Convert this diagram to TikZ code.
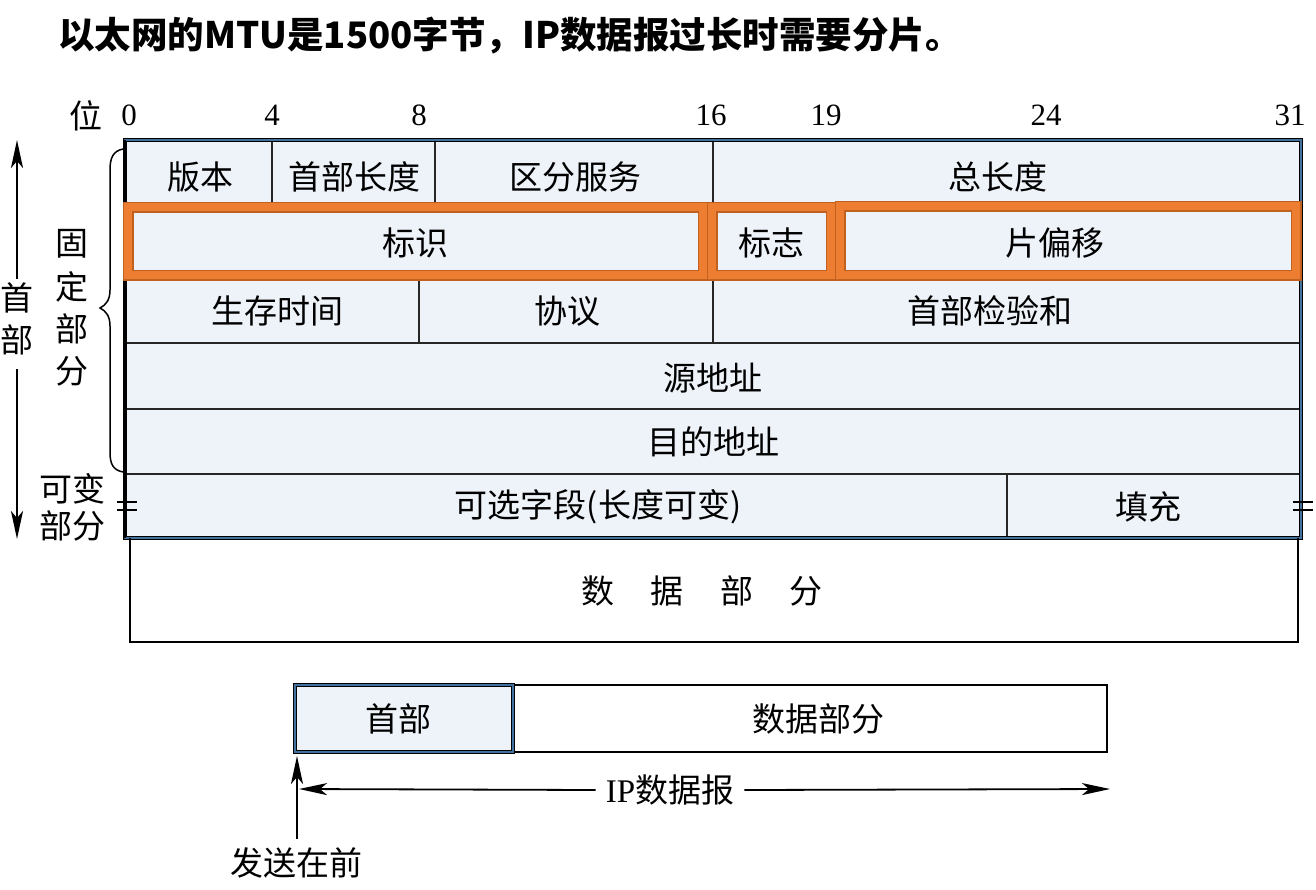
\documentclass[tikz,border=0pt]{standalone}
\usepackage{fontspec}
\setmainfont{Liberation Serif}
\newfontfamily\cjk{Noto Sans CJK SC}
\usetikzlibrary{arrows.meta}
\definecolor{cellfill}{HTML}{EEF3FA}
\definecolor{tableblue}{HTML}{41719C}
\definecolor{orangec}{HTML}{ED7D31}
\definecolor{orangedark}{HTML}{C0611F}
\begin{document}
\begin{tikzpicture}[x=1pt,y=-1pt,
  cjkl/.style={font=\cjk\fontsize{33}{38}\selectfont, inner sep=0pt},
  num/.style={font=\fontsize{31}{34}\selectfont, inner sep=0pt},
  arr/.style={-{Stealth[length=28pt,width=12pt,inset=7pt]}, line width=2.4pt},
  arrh/.style={-{Stealth[length=28pt,width=12pt,inset=7pt]}, line width=1.8pt},
  grid/.style={line width=1.5pt, black!85},
  obox/.style={line width=11pt, draw=orangedark},
  oboxin/.style={line width=8pt, draw=orangec}]
\useasboundingbox (0,0) rectangle (1316,889);

% title
\node[font=\cjk\bfseries\fontsize{36.5}{40}\selectfont, anchor=west, inner sep=0pt] (title) at (58,36) {以太网的MTU是1500字节，IP数据报过长时需要分片。};

% bit numbers
\node[cjkl] (wei) at (86,116) {位};
\node[num] (b0) at (129,115) {0};
\node[num] (b4) at (272,115) {4};
\node[num] (b8) at (419,115) {8};
\node[num] (b16) at (711,115) {16};
\node[num] (b19) at (826,115) {19};
\node[num] (b24) at (1046,115) {24};
\node[num] (b31) at (1290,115) {31};

% table
\fill[cellfill] (125,140) rectangle (1301,538);
\draw[grid] (125,203) -- (1301,203);
\draw[grid] (125,278) -- (1301,278);
\draw[grid] (125,343) -- (1301,343);
\draw[grid] (125,409) -- (1301,409);
\draw[grid] (125,474) -- (1301,474);
\draw[grid] (272,140) -- (272,203);
\draw[grid] (435,140) -- (435,203);
\draw[grid] (713,140) -- (713,203);
\draw[grid] (419,278) -- (419,343);
\draw[grid] (713,278) -- (713,343);
\draw[grid] (1007,474) -- (1007,538);
\draw[black, line width=3.5pt] (125,140) rectangle (1301,538);
\draw[tableblue, line width=1.5pt] (125,140) rectangle (1301,538);
\draw[black, line width=3pt] (124,140) -- (124,538);

% orange boxes
\draw[obox] (128,207) rectangle (703,275);
\draw[oboxin] (128,207) rectangle (703,275);
\draw[obox] (712,207) rectangle (831,275);
\draw[oboxin] (712,207) rectangle (831,275);
\draw[obox] (840,206) rectangle (1296,275);
\draw[oboxin] (840,206) rectangle (1296,275);

% cell texts
\node[cjkl] (ver) at (200,177) {版本};
\node[cjkl] (hlen) at (354,177) {首部长度};
\node[cjkl] (ds) at (575,177) {区分服务};
\node[cjkl] (tlen) at (998,177) {总长度};
\node[cjkl] (ident) at (415,243) {标识};
\node[cjkl] (flag) at (771,243) {标志};
\node[cjkl] (frag) at (1055,243) {片偏移};
\node[cjkl] (ttl) at (277,311) {生存时间};
\node[cjkl] (proto) at (567,311) {协议};
\node[cjkl] (csum) at (990,311) {首部检验和};
\node[cjkl] (src) at (713,378) {源地址};
\node[cjkl] (dst) at (713,442) {目的地址};
\node[cjkl] (opt) at (598,507) {可选字段(长度可变)};
\node[cjkl] (pad) at (1148,507) {填充};

% break marks
\draw[line width=1.5pt] (117,502) -- (137,502) (117,510) -- (137,510);
\draw[line width=1.5pt] (1293,502) -- (1313,502) (1293,510) -- (1313,510);

% data part
\draw[line width=1.8pt] (130,538) -- (130,642) -- (1298,642) -- (1298,538);
\node[cjkl] (data) at (702,591) {数\hspace{1.1em}据\hspace{1.1em}部\hspace{1.1em}分};

% left brace
\draw[line width=1.5pt] (123,149) .. controls (113,151) and (110,158) .. (110,170) -- (110,290) .. controls (110,300) and (106,305) .. (100,308) .. controls (106,311) and (110,316) .. (110,326) -- (110,452) .. controls (110,464) and (113,470) .. (123,472);
\node[cjkl] (g1) at (72,244) {固};
\node[cjkl] (g2) at (72,287) {定};
\node[cjkl] (g3) at (72,329) {部};
\node[cjkl] (g4) at (72,371) {分};
\node[cjkl] (v1) at (72,489) {可变};
\node[cjkl] (v2) at (72,526) {部分};
\node[cjkl] (h1) at (17,298) {首};
\node[cjkl] (h2) at (17,340) {部};
\coordinate (upend) at (17,140);
\coordinate (dnend) at (17,539);
\draw[arr] (h1.north) ++(0,-4) -- (upend);
\draw[arr] (h2.south) ++(0,14) -- (dnend);

% bottom datagram
\fill[cellfill] (295,685) rectangle (513,752);
\draw[line width=1.8pt] (513,685) -- (1107,685) -- (1107,752) -- (513,752);
\draw[black, line width=3.5pt] (295,685) rectangle (513,752);
\draw[tableblue, line width=1.5pt] (295,685) rectangle (513,752);
\node[cjkl] (hdr) at (398,719) {首部};
\node[cjkl] (pay) at (818,719) {数据部分};

\node[cjkl, fill=white, inner xsep=10pt, inner ysep=2pt] (ipd) at (670,790) {{\rmfamily IP}数据报};
\coordinate (lft) at (299,789);
\coordinate (rgt) at (1110,789);
\draw[arrh] (ipd.west) -- (lft);
\draw[arrh] (ipd.east) -- (rgt);

\node[cjkl] (send) at (296,863) {发送在前};
\coordinate (sendtip) at (297,756);
\draw[arr] (297,839) -- (sendtip);
\end{tikzpicture}
\end{document}
